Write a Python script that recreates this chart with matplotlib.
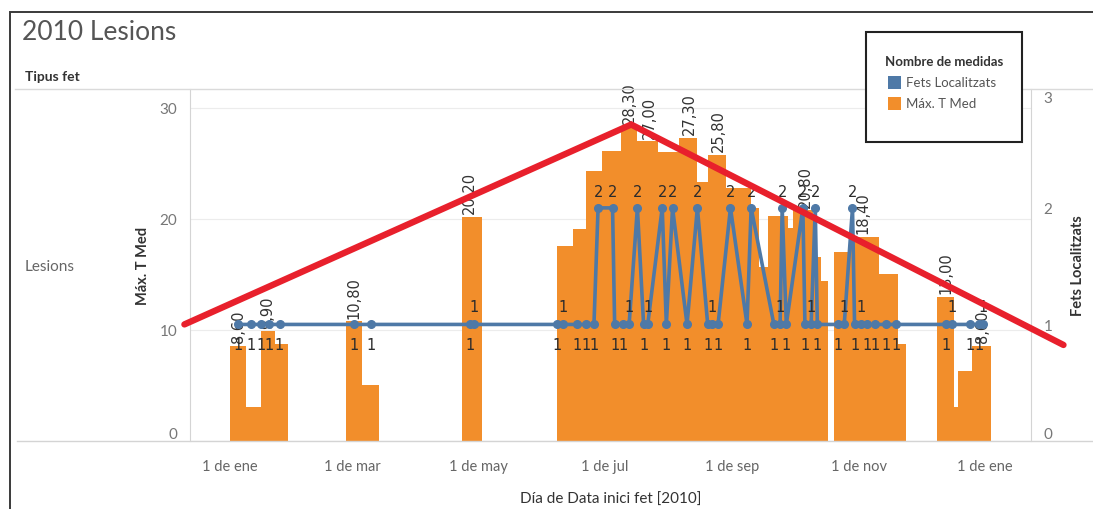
import numpy as np
import pandas as pd
import matplotlib
matplotlib.use("Agg")
import matplotlib.pyplot as plt
import matplotlib.dates as mdates
from matplotlib.patches import Rectangle
from matplotlib.lines import Line2D

plt.rcParams["font.family"] = ["Lato", "DejaVu Sans"]

# ---------------------------------------------------------------- data
# Daily maximum of the mean temperature (Máx. T Med)
bar_dates = [
    "2010-01-05", "2010-01-12", "2010-01-19", "2010-01-25",
    "2010-03-02", "2010-03-10",
    "2010-04-27", "2010-04-29",
    "2010-06-12", "2010-06-18", "2010-06-26", "2010-07-05", "2010-07-13",
    "2010-07-23", "2010-08-02", "2010-08-11", "2010-08-16", "2010-08-25",
    "2010-08-31", "2010-09-06", "2010-09-10", "2010-09-14", "2010-09-20",
    "2010-09-24", "2010-09-26", "2010-10-06", "2010-10-10", "2010-10-13",
    "2010-10-24", "2010-10-30", "2010-11-03", "2010-11-07", "2010-11-16",
    "2010-11-20",
    "2010-12-13", "2010-12-15", "2010-12-22", "2010-12-31",
]
max_t_med = [
    8.6, 3.1, 9.9, 8.7,
    10.8, 5.0,
    20.2, 20.2,
    17.6, 19.1, 24.3, 26.1, 28.3,
    27.0, 26.0, 27.3, 23.3, 25.8,
    22.8, 22.8, 21.0, 15.7, 20.3,
    20.3, 19.2, 20.8, 16.6, 14.4,
    17.0, 18.4, 18.4, 18.4, 15.0,
    8.7,
    13.0, 3.1, 6.3, 8.6,
]
# Days whose temperature carries a value label
labelled_dates = [
    "2010-01-05", "2010-01-19", "2010-03-02", "2010-04-27", "2010-07-13",
    "2010-07-23", "2010-08-11", "2010-08-25", "2010-10-06", "2010-11-03",
    "2010-12-13", "2010-12-31",
]

# Number of located events per day (Fets Localitzats)
count_dates = [
    "2010-01-05", "2010-01-11", "2010-01-16", "2010-01-20", "2010-01-25",
    "2010-03-02", "2010-03-10",
    "2010-04-27", "2010-04-29",
    "2010-06-08", "2010-06-11", "2010-06-18", "2010-06-22", "2010-06-26",
    "2010-06-28", "2010-07-05", "2010-07-06", "2010-07-10", "2010-07-13",
    "2010-07-17", "2010-07-20", "2010-07-22", "2010-07-29", "2010-07-31",
    "2010-08-03", "2010-08-10", "2010-08-15", "2010-08-20", "2010-08-22",
    "2010-08-25", "2010-08-31", "2010-09-08", "2010-09-10", "2010-09-21",
    "2010-09-24", "2010-09-25", "2010-09-27", "2010-10-05", "2010-10-06",
    "2010-10-09", "2010-10-11", "2010-10-12",
    "2010-10-22", "2010-10-25", "2010-10-29", "2010-10-30", "2010-11-02",
    "2010-11-05", "2010-11-09", "2010-11-14", "2010-11-19",
    "2010-12-13", "2010-12-16", "2010-12-25", "2010-12-29", "2010-12-31",
]
fets_localitzats = [
    1, 1, 1, 1, 1,
    1, 1,
    1, 1,
    1, 1, 1, 1, 1,
    2, 2, 1, 1, 1,
    2, 1, 1, 2, 1,
    2, 1, 2, 1, 1,
    1, 2, 1, 2, 1,
    1, 2, 1, 2, 1,
    1, 2, 1,
    1, 1, 2, 1, 1,
    1, 1, 1, 1,
    1, 1, 1, 1, 1,
]

# Hand-drawn trend overlay (rise to the July peak, then decline)
trend_dates = ["2009-12-10", "2010-07-14", "2011-02-08"]
trend_values = [10.5, 28.5, 8.65]

tick_dates = ["2010-01-01", "2010-03-01", "2010-05-01", "2010-07-01",
              "2010-09-01", "2010-11-01", "2011-01-01"]
tick_labels = ["1 de ene", "1 de mar", "1 de may", "1 de jul",
               "1 de sep", "1 de nov", "1 de ene"]

# ---------------------------------------------------------------- style
ORANGE = "#F28E2B"
BLUE = "#4E79A7"
RED = "#E8202C"
GRID = "#ececec"
RULE = "#d4d4d4"
LABEL_FONT = "DejaVu Sans"
BAR_HALF = 4.0      # half bar width, days
JOIN_GAP = 2.5      # gaps up to this many days are closed up

W_PX, H_PX = 1093, 510
fig = plt.figure(figsize=(W_PX / 100, H_PX / 100), dpi=100)


def fx(x):
    return x / W_PX


def fy(y):
    return 1 - y / H_PX


def to_num(dates):
    return mdates.date2num(pd.to_datetime(dates).to_pydatetime())


ax = fig.add_axes([fx(190), fy(442), fx(1031) - fx(190), fy(90) - fy(442)])
ax.set_facecolor("none")

# ---------------------------------------------------------------- bars
# Bars of neighbouring days butt against each other: each bar ends half a
# width after its day and starts where the previous one ended.
bd = to_num(bar_dates)
rights = bd + BAR_HALF
lefts = bd - BAR_HALF
for i in range(1, len(bd)):
    if lefts[i] - rights[i - 1] <= JOIN_GAP:
        lefts[i] = rights[i - 1]
ax.bar(lefts, max_t_med, width=rights - lefts, align="edge", color=ORANGE,
       linewidth=0, zorder=2)

lab = set(to_num(labelled_dates))
for d, v in zip(bd, max_t_med):
    if d in lab:
        ax.annotate(f"{v:.2f}".replace(".", ","), (d, v), xytext=(0, 2.5),
                    textcoords="offset points", rotation=90, ha="center",
                    va="bottom", fontsize=10.5, color="#333333",
                    family=LABEL_FONT, zorder=4, annotation_clip=False)

# ---------------------------------------------------------------- axes ranges
jan1 = to_num(["2010-01-01"])[0]
ax.set_xlim(jan1 - 19.3, jan1 + 387.3)
ax.set_ylim(0, 31.7)
ax.set_yticks([0, 10, 20, 30])
ax.grid(axis="y", color=GRID, lw=0.8)
ax.set_axisbelow(True)
ax.set_xticks(to_num(tick_dates), tick_labels)
ax.tick_params(axis="x", length=0, pad=13, labelsize=10.5, labelcolor="#666666")
ax.tick_params(axis="y", length=0, pad=9, labelsize=11, labelcolor="#777777")
for s in ("top", "right", "bottom"):
    ax.spines[s].set_visible(False)
ax.spines["left"].set_color(RULE)
ax.get_yticklabels()[0].set_va("bottom")

# ---------------------------------------------------------------- count line
ax2 = ax.twinx()
cd = to_num(count_dates)
ax2.plot(cd, fets_localitzats, color=BLUE, lw=2.6, marker="o", ms=5.5,
         solid_joinstyle="round", zorder=3)

last_below = -1e9
for d, v in zip(cd, fets_localitzats):
    if v >= 2:
        off = 12
    elif d - last_below < 4:
        off = 13
    else:
        off = -14.5
        last_below = d
    ax2.annotate(str(v), (d, v), xytext=(0, off), textcoords="offset points",
                 ha="center", va="center", fontsize=10.5, color="#2b2b2b",
                 family=LABEL_FONT, zorder=4)

ax2.set_ylim(0, 3.02)
ax2.set_yticks([0, 1, 2, 3])
ax2.tick_params(axis="y", length=0, pad=9, labelsize=11, labelcolor="#777777")
for s in ("top", "left", "bottom"):
    ax2.spines[s].set_visible(False)
ax2.spines["right"].set_color(RULE)
rl = ax2.get_yticklabels()
rl[0].set_va("bottom")
rl[-1].set_va("top")

# trend overlay, in temperature units, free to run past the pane
ax2.plot(to_num(trend_dates), trend_values, transform=ax.transData,
         color=RED, lw=4.6, solid_capstyle="round", solid_joinstyle="miter",
         clip_on=False, zorder=10)

# ---------------------------------------------------------------- axis titles
ax.set_ylabel("Máx. T Med", fontsize=10.5, color="#333333", weight="bold")
ax.yaxis.label.set(va="center", rotation_mode="anchor")
ax.yaxis.set_label_coords((143 - 190) / 841, 0.5)
ax2.set_ylabel("Fets Localitzats", fontsize=10.5, color="#333333", weight="bold")
ax2.yaxis.label.set(va="center", rotation_mode="anchor", rotation=90)
ax2.yaxis.set_label_coords((1078 - 190) / 841, 0.5)
ax.set_xlabel("Día de Data inici fet [2010]", fontsize=11, color="#333333")
ax.xaxis.label.set(va="center")
ax.xaxis.set_label_coords(0.5, (442 - 500) / 352)

# ---------------------------------------------------------------- frame & headers
fig.add_artist(Line2D([fx(15), 1.0], [fy(90), fy(90)], color="#dadada", lw=1, zorder=0.5))
fig.add_artist(Line2D([fx(17), 1.0], [fy(442), fy(442)], color=RULE, lw=1, zorder=0.5))
fig.add_artist(Rectangle((fx(10), -0.2), 1.2, fy(12.5) + 0.2, fill=False,
                         edgecolor="#3a3a3a", lw=1.4, zorder=0.6))

fig.text(fx(22), fy(33), "2010 Lesions", fontsize=19, color="#555555",
         ha="left", va="center")
fig.text(fx(25), fy(77), "Tipus fet", fontsize=10, color="#333333",
         weight="bold", ha="left", va="center")
fig.text(fx(25), fy(267), "Lesions", fontsize=11, color="#666666",
         ha="left", va="center")

# ---------------------------------------------------------------- legend
fig.add_artist(Rectangle((fx(866), fy(143)), fx(1022) - fx(866), fy(33) - fy(143),
                         facecolor="white", edgecolor="#222222", lw=1.5, zorder=20))
fig.text(fx(885), fy(62), "Nombre de medidas", fontsize=9.5, color="#333333",
         weight="bold", ha="left", va="center", zorder=21)
for y, col, name in ((83, BLUE, "Fets Localitzats"), (104, ORANGE, "Máx. T Med")):
    fig.add_artist(Rectangle((fx(888), fy(y + 6.5)), fx(13), fy(0) - fy(13),
                             facecolor=col, edgecolor="none", zorder=21))
    fig.text(fx(906), fy(y), name, fontsize=9.5, color="#555555",
             ha="left", va="center", zorder=21)

fig.savefig("out.png", dpi=100)
